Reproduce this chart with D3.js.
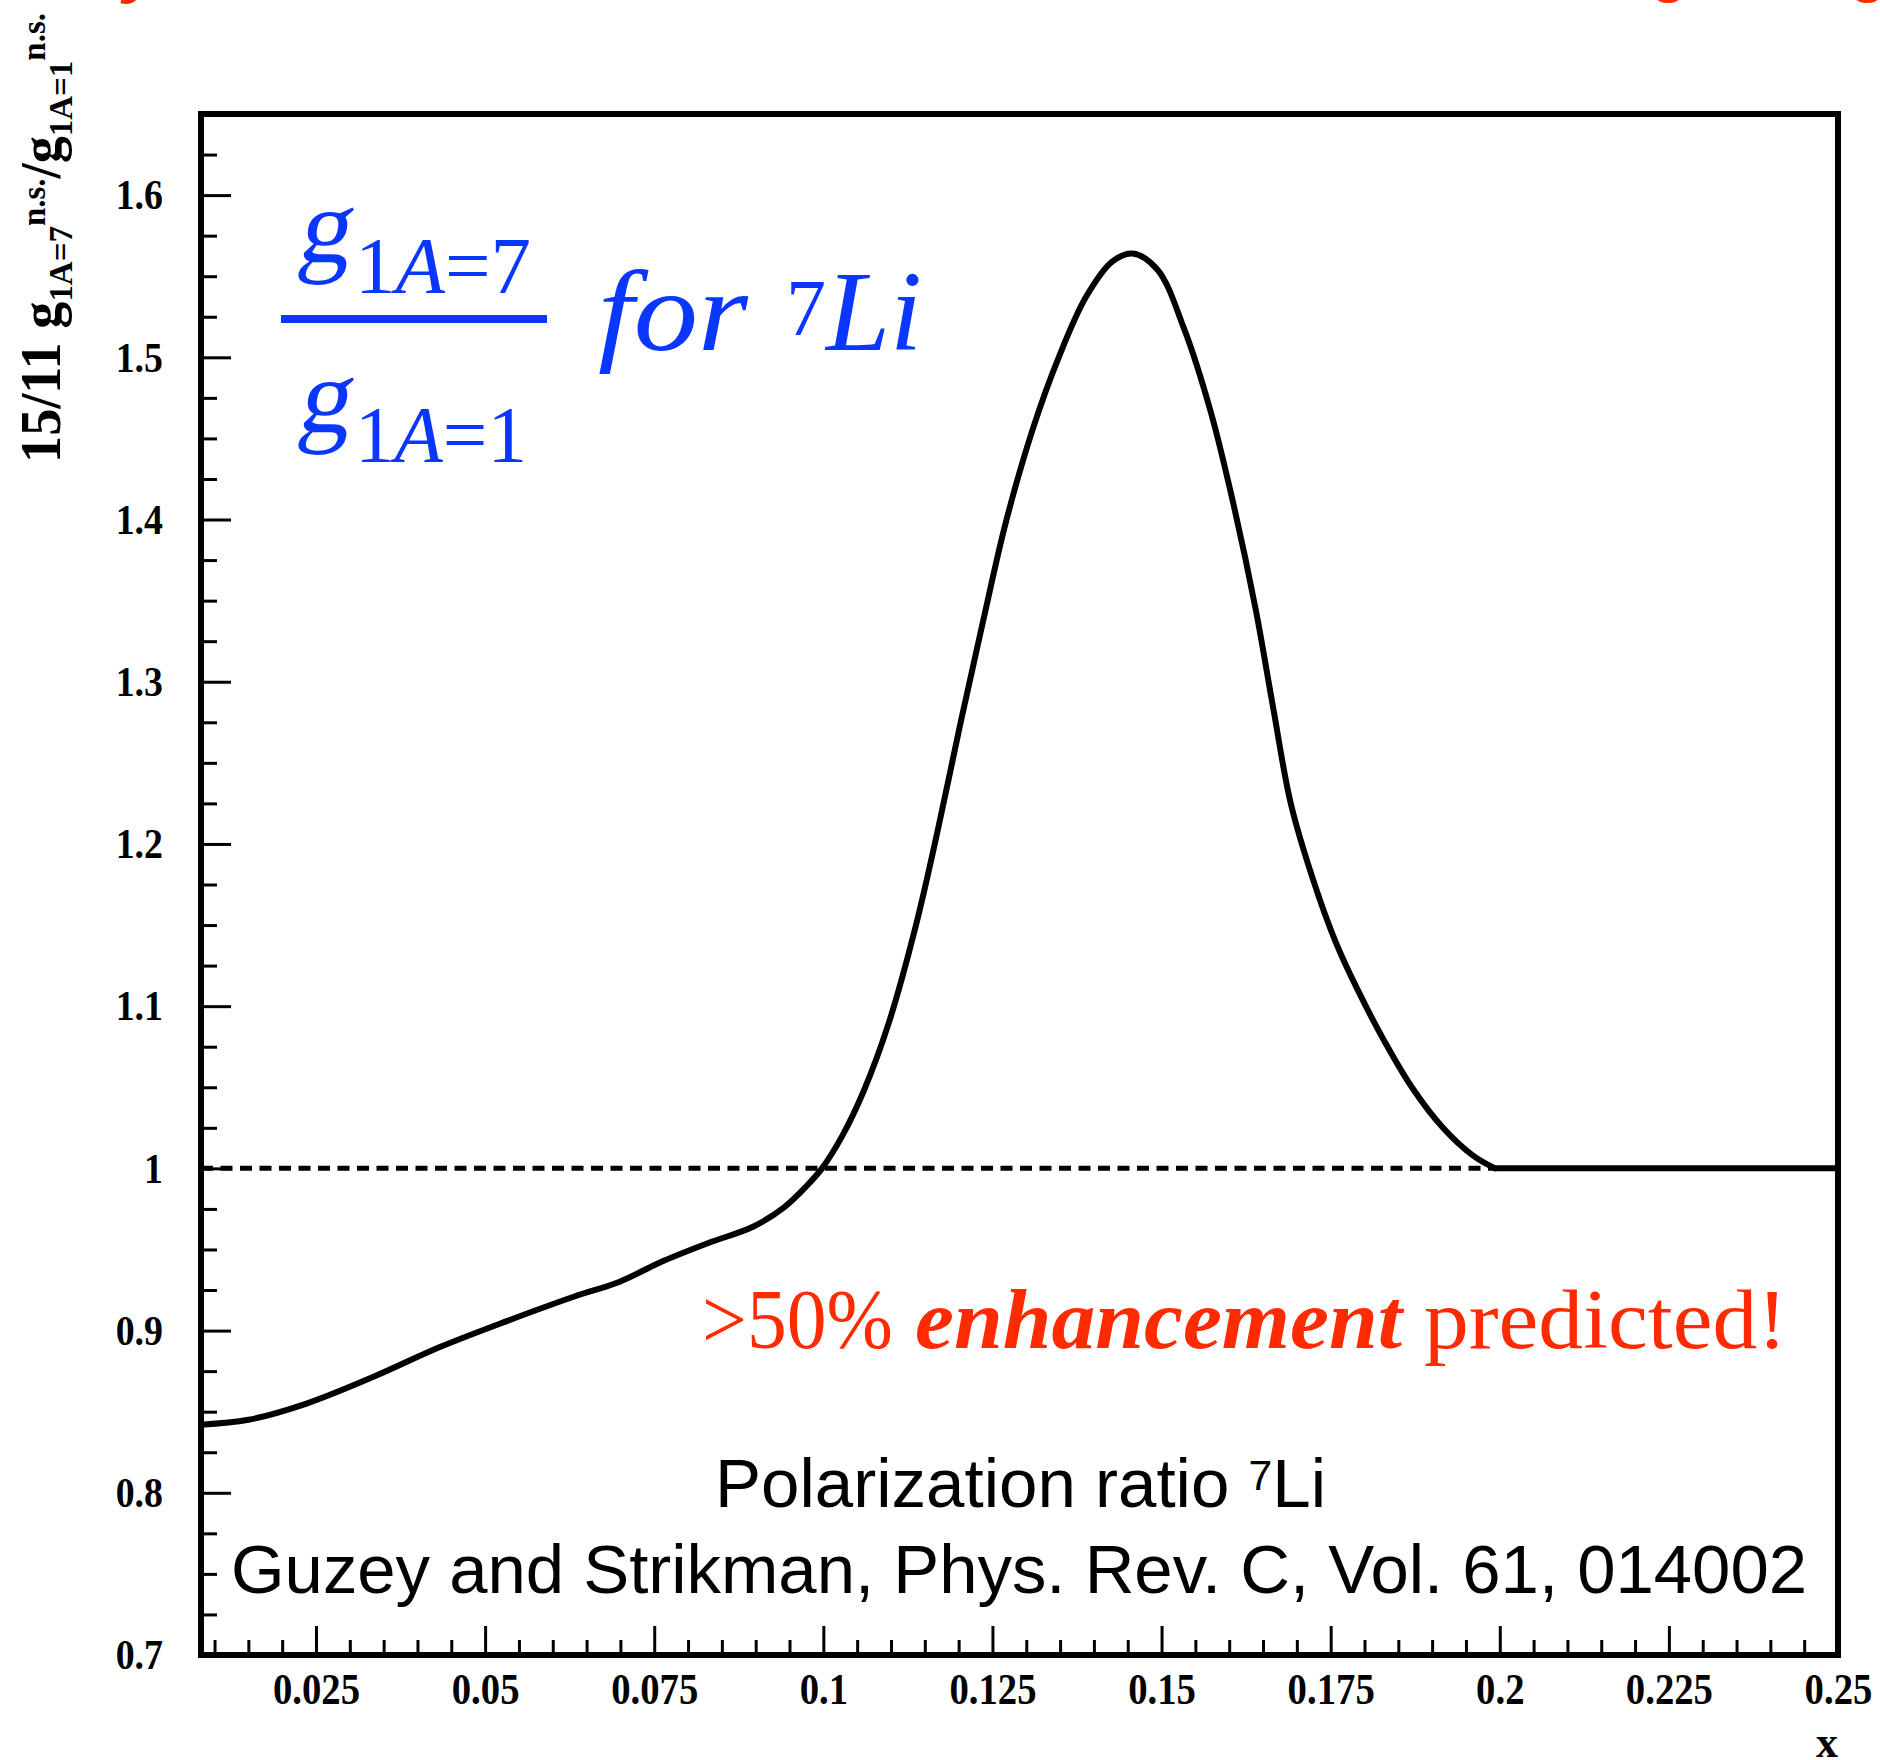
<!DOCTYPE html>
<html><head><meta charset="utf-8">
<script src="https://cdn.jsdelivr.net/npm/d3@7"></script>
<style>body{margin:0;background:#fff}</style>
</head><body>
<svg id="c" width="1880" height="1760" xmlns="http://www.w3.org/2000/svg"></svg>
<script>
// ---- data ----
const curveX = [0.0080, 0.0150, 0.0236, 0.0335, 0.0434, 0.0533, 0.0632, 0.0698, 0.0764, 0.0830, 0.0896, 0.0942, 0.0975, 0.0998, 0.1028, 0.1060, 0.1097, 0.1137, 0.1170, 0.1203, 0.1236, 0.1269, 0.1309, 0.1348, 0.1388, 0.1427, 0.1457, 0.1494, 0.1533, 0.1573, 0.1606, 0.1639, 0.1665, 0.1691, 0.1724, 0.1757, 0.1790, 0.1830, 0.1870, 0.1916, 0.1960, 0.1993, 0.2200, 0.2500];
const curveY = [0.842, 0.845, 0.855, 0.8715, 0.890, 0.906, 0.921, 0.930, 0.943, 0.954, 0.964, 0.976, 0.989, 1.000, 1.020, 1.048, 1.090, 1.150, 1.210, 1.275, 1.337, 1.397, 1.455, 1.500, 1.537, 1.559, 1.564, 1.554, 1.518, 1.466, 1.410, 1.345, 1.284, 1.225, 1.178, 1.140, 1.110, 1.078, 1.050, 1.025, 1.008, 1.000, 1.000, 1.000];
const refX = [0.008, 0.1993];
const refY = [1.0, 1.0];
const xTickValues = [0.025, 0.05, 0.075, 0.1, 0.125, 0.15, 0.175, 0.2, 0.225, 0.25];
const xTickLabels = ["0.025", "0.05", "0.075", "0.1", "0.125", "0.15", "0.175", "0.2", "0.225", "0.25"];
const yTickValues = [0.7, 0.8, 0.9, 1.0, 1.1, 1.2, 1.3, 1.4, 1.5, 1.6];
const yTickLabels = ["0.7", "0.8", "0.9", "1", "1.1", "1.2", "1.3", "1.4", "1.5", "1.6"];
const xDomain = [0.008, 0.25];
const yDomain = [0.7, 1.65];
const xMinorStep = 0.005;
const yMinorStep = 0.025;

// ---- chart ----
const svg = d3.select("#c");
const x = d3.scaleLinear().domain(xDomain).range([201, 1838]);
const y = d3.scaleLinear().domain(yDomain).range([1655, 114]);
const serif = "'Liberation Serif', 'Times New Roman', serif";
const sans = "'Liberation Sans', Arial, Helvetica, sans-serif";
const blue = "#0a37ff", red = "#ff2a00";

const xMinor = d3.range(0.01, 0.2499, xMinorStep).filter(v => !xTickValues.some(t => Math.abs(t - v) < 1e-6));
const yMinor = d3.range(0.725, 1.649, yMinorStep).filter(v => !yTickValues.some(t => Math.abs(t - v) < 1e-6));

function condense(sel, f) {
  sel.each(function () {
    const L = this.getComputedTextLength();
    d3.select(this).attr("textLength", L * f).attr("lengthAdjust", "spacingAndGlyphs");
  });
}

// minor ticks
const gxm = svg.append("g").attr("transform", `translate(0,${y(0.7)})`)
  .call(d3.axisBottom(x).tickValues(xMinor).tickSize(-15).tickFormat(""));
const gym = svg.append("g").attr("transform", `translate(${x(0.008)},0)`)
  .call(d3.axisLeft(y).tickValues(yMinor).tickSize(-16).tickFormat(""));
// major ticks + labels
const gx = svg.append("g").attr("transform", `translate(0,${y(0.7)})`)
  .call(d3.axisBottom(x).tickValues(xTickValues).tickSize(-29).tickPadding(18).tickFormat((d, i) => xTickLabels[i]));
const gy = svg.append("g").attr("transform", `translate(${x(0.008)},0)`)
  .call(d3.axisLeft(y).tickValues(yTickValues).tickSize(-30).tickPadding(38).tickFormat((d, i) => yTickLabels[i]));

[gxm, gym, gx, gy].forEach(g => {
  g.select(".domain").remove();
  g.selectAll(".tick line").attr("stroke", "#000").attr("stroke-width", 3);
});
gx.selectAll(".tick text").attr("font-family", serif).attr("font-weight", "bold").attr("font-size", 44).attr("fill", "#000");
gy.selectAll(".tick text").attr("font-family", serif).attr("font-weight", "bold").attr("font-size", 43).attr("fill", "#000");
condense(gx.selectAll(".tick text"), 0.88);
condense(gy.selectAll(".tick text"), 0.88);

// reference dashed line at 1
const line = d3.line().x(d => x(d[0])).y(d => y(d[1]));
svg.append("path").datum(d3.zip(refX, refY)).attr("d", line)
  .attr("fill", "none").attr("stroke", "#000").attr("stroke-width", 5).attr("stroke-dasharray", "12,7.5");

// curve: smooth part up to the joining point, straight part afterwards
const pts = d3.zip(curveX, curveY);
const joinIdx = curveX.indexOf(0.1993);
const smooth = d3.line().x(d => x(d[0])).y(d => y(d[1])).curve(d3.curveCatmullRom.alpha(0.5));
svg.append("path").datum(pts.slice(0, joinIdx + 1)).attr("d", smooth)
  .attr("fill", "none").attr("stroke", "#000").attr("stroke-width", 6)
  .attr("stroke-linejoin", "round").attr("stroke-linecap", "round");
svg.append("path").datum(pts.slice(joinIdx)).attr("d", line)
  .attr("fill", "none").attr("stroke", "#000").attr("stroke-width", 6)
  .attr("stroke-linecap", "round");

// frame
svg.append("rect").attr("x", x(0.008)).attr("y", y(1.65))
  .attr("width", x(0.25) - x(0.008)).attr("height", y(0.7) - y(1.65))
  .attr("fill", "none").attr("stroke", "#000").attr("stroke-width", 6);

// axis titles
svg.append("text").attr("x", 1838).attr("y", 1757).attr("text-anchor", "end")
  .attr("font-family", serif).attr("font-weight", "bold").attr("font-size", 44).text("x");

const yl = svg.append("text").attr("transform", "translate(60,463) rotate(-90)")
  .attr("font-family", serif).attr("font-weight", "bold").attr("font-size", 56).attr("fill", "#000");
yl.append("tspan").text("15/11 g");
yl.append("tspan").attr("font-size", 34).attr("dy", 12).text("1A=7");
yl.append("tspan").attr("font-size", 34).attr("dy", -27).text("n.s.");
yl.append("tspan").attr("dy", 15).text("/g");
yl.append("tspan").attr("font-size", 34).attr("dy", 12).text("1A=1");
yl.append("tspan").attr("font-size", 34).attr("dy", -27).text("n.s.");
yl.attr("textLength", 450).attr("lengthAdjust", "spacingAndGlyphs");

// blue formula
function gGlyph(px, py) {
  svg.append("text").attr("transform", `translate(${px},${py}) skewX(-10)`)
    .attr("font-family", serif).attr("font-size", 106).attr("fill", blue).text("g");
}
function txt(px, py, size, style, str, w) {
  const t = svg.append("text").attr("x", px).attr("y", py).attr("font-family", serif).attr("font-size", size).attr("fill", blue);
  if (style) t.attr("font-style", style);
  t.text(str);
  if (w) t.attr("textLength", w).attr("lengthAdjust", "spacingAndGlyphs");
  return t;
}
function sub(px, py, last, w) {
  const t = svg.append("text").attr("x", px).attr("y", py).attr("font-family", serif).attr("font-size", 80).attr("fill", blue);
  t.append("tspan").text("1");
  t.append("tspan").attr("font-style", "italic").text("A");
  t.append("tspan").text("=" + last);
  t.attr("textLength", w).attr("lengthAdjust", "spacingAndGlyphs");
}
gGlyph(296, 262);
sub(355, 293, "7", 176);
svg.append("rect").attr("x", 281).attr("y", 315).attr("width", 266).attr("height", 8).attr("fill", blue);
gGlyph(296, 432);
sub(355, 462, "1", 172);
txt(598, 350, 114, "italic", "for", 150);
txt(786, 335, 80, null, "7");
txt(826, 350, 114, "italic", "Li", 96);

// red annotation
function redText(px, w, str, weight, style) {
  const t = svg.append("text").attr("x", px).attr("y", 1348).attr("font-family", serif)
    .attr("font-size", 84).attr("fill", red).text(str);
  if (weight) t.attr("font-weight", weight);
  if (style) t.attr("font-style", style);
  t.attr("textLength", w).attr("lengthAdjust", "spacingAndGlyphs");
}
redText(702, 191, ">50%", null, null);
redText(915, 487, "enhancement", "bold", "italic");
redText(1424, 363, "predicted!", null, null);

// citation
const c1 = svg.append("text").attr("x", 715).attr("y", 1507).attr("font-family", sans).attr("font-size", 68).attr("fill", "#000");
c1.append("tspan").text("Polarization ratio ");
c1.append("tspan").attr("font-size", 42).attr("dy", -17).text("7");
c1.append("tspan").attr("dy", 17).text("Li");
c1.attr("textLength", 611).attr("lengthAdjust", "spacingAndGlyphs");
svg.append("text").attr("x", 231).attr("y", 1593).attr("font-family", sans).attr("font-size", 68).attr("fill", "#000")
  .text("Guzey and Strikman, Phys. Rev. C, Vol. 61, 014002")
  .attr("textLength", 1576).attr("lengthAdjust", "spacingAndGlyphs");

// clipped title fragments at the very top
svg.append("text").attr("x", 128).attr("y", -15).attr("font-family", serif).attr("font-style", "italic")
  .attr("font-size", 90).attr("fill", red).text("y");
svg.append("text").attr("x", 1648).attr("y", 2).attr("font-family", serif)
  .attr("font-size", 80).attr("fill", red).text("o");
svg.append("text").attr("x", 1847).attr("y", 2).attr("font-family", serif)
  .attr("font-size", 80).attr("fill", red).text("o");
</script>
</body></html>
